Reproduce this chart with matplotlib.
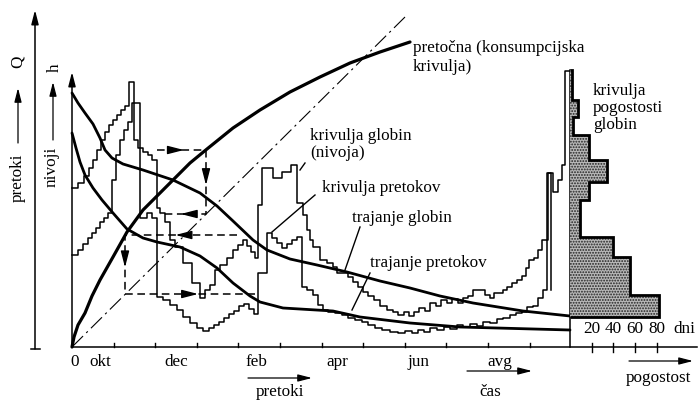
import numpy as np
import matplotlib.pyplot as plt

plt.rcParams['font.family'] = 'serif'
plt.rcParams['font.serif'] = ['Liberation Serif', 'DejaVu Serif']
plt.rcParams['hatch.linewidth'] = 0.9

# time runs 0..498 (one month = 41.6 units), levels are measured up from the time axis
MONTH = 41.6
T_END = 498
FS = 12.3

month_names = ['0', 'okt', 'dec', 'feb', 'apr', 'jun', 'avg']
month_pos = [3, 28, 104, 184, 265, 346, 428]

# krivulja globin (nivoja) - step hydrograph of levels
lvl_t = [0, 6, 12, 17, 21, 25, 29, 33, 37, 41, 45, 49, 53, 57, 62, 66, 71, 76, 80, 85,
         88, 93, 98, 103, 111, 120, 128, 133, 138, 143, 148, 155, 161, 166, 171, 175, 179, 183, 186, 190,
         197, 201, 206, 210, 215, 219, 225, 231, 235, 238, 241, 248, 255, 261, 265, 271, 276, 281, 286, 291,
         296, 302, 308, 315, 321, 326, 332, 337, 342, 347, 353, 358, 364, 369, 375, 380, 386, 391, 396, 401,
         408, 413, 418, 422, 427, 431, 435, 440, 445, 450, 454, 457, 462, 466, 470, 476, 481, 486, 490, 493, 498]
lvl_v = [159, 164, 171, 179, 187, 197, 207, 215, 222, 227, 232, 237, 241, 265, 207, 199, 195, 192, 187, 139,
         134, 125, 107, 100, 84, 64, 49, 57, 62, 77, 82, 89, 97, 102, 107, 101, 95, 89, 142, 179,
         179, 169, 169, 175, 175, 182, 144, 132, 117, 107, 100, 87, 84, 80, 74, 74, 70, 65, 60, 55,
         51, 47, 41, 37, 35, 32, 35, 31, 35, 39, 36, 44, 41, 47, 44, 48, 44, 49, 51, 57,
         57, 52, 49, 54, 54, 57, 60, 64, 67, 71, 79, 87, 89, 97, 107, 174, 155, 167, 182, 276, 276]

# krivulja pretokov - step hydrograph of discharges
flow_t = [0, 6, 11, 16, 20, 24, 28, 32, 36, 40, 44, 48, 52, 56, 60, 68, 75, 80, 85, 91,
          98, 105, 111, 118, 125, 131, 137, 142, 147, 152, 157, 162, 167, 172, 177, 182, 186, 191, 195, 200,
          205, 210, 215, 220, 225, 230, 235, 241, 246, 251, 256, 263, 270, 276, 283, 290, 296, 303, 310, 318,
          326, 333, 340, 346, 352, 358, 365, 372, 378, 385, 391, 398, 405, 411, 418, 425, 431, 438, 444, 450,
          455, 461, 466, 471, 475, 479]
flow_v = [92, 97, 103, 109, 114, 119, 125, 129, 134, 167, 192, 207, 217, 225, 244, 129, 134, 129, 50, 47,
          42, 37, 30, 24, 19, 16, 19, 22, 25, 29, 33, 36, 41, 43, 38, 33, 74, 74, 114, 109,
          104, 99, 103, 107, 110, 60, 57, 52, 42, 37, 35, 34, 32, 29, 27, 25, 22, 19, 17, 15,
          14, 16, 14, 17, 15, 19, 17, 20, 18, 22, 20, 23, 21, 25, 24, 28, 29, 32, 34, 35,
          40, 41, 49, 57, 174, 57]

# trajanje globin
dur_lvl_t = [0, 6, 13, 21, 28, 33, 40, 51, 71, 101, 128, 145, 161, 181, 195, 218, 245, 275, 308, 338, 368, 401, 451, 498]
dur_lvl_v = [254, 244, 234, 223, 209, 197, 189, 183, 177, 167, 154, 141, 126, 107, 97, 88, 82, 75, 66, 59, 51, 44, 36, 31]

# trajanje pretokov
dur_flow_t = [0, 4, 8, 13, 21, 30, 41, 55, 71, 85, 108, 128, 145, 161, 178, 188, 211, 261, 288, 338, 388, 498]
dur_flow_v = [214, 199, 185, 172, 159, 147, 134, 118, 109, 105, 100, 91, 79, 64, 51, 45, 39, 36, 30, 24, 20, 17]

# pretočna (konsumpcijska) krivulja
rat_t = [0, 2, 6, 13, 20, 28, 41, 55, 71, 88, 101, 118, 135, 161, 188, 218, 248, 278, 308, 338]
rat_v = [0, 10, 22, 34, 51, 67, 90, 115, 137, 154, 167, 184, 198, 219, 237, 255, 270, 284, 295, 305]

# 45 degree helper line
diag_t = [0, 333]
diag_v = [0, 330]

# transfer constructions (hydrograph -> rating curve -> diagonal -> hydrograph)
consA_t = [85, 134, 134, 88]
consA_v = [197, 197, 133, 133]
consB_t = [165, 53, 53, 186]
consB_v = [112, 112, 53, 53]

# krivulja pogostosti globin (days per level class)
hist_edges = [30, 52, 90, 110, 147, 165, 187, 212, 230, 247, 277]
hist_days = [82, 55, 40, 9, 18, 34, 18, 3, 7, 2]
freq_ticks = [20, 40, 60, 80]

fig = plt.figure(figsize=(6.98, 4.01), dpi=100)
ax = fig.add_axes([0, 0, 1, 1])
ax.set_xlim(-72, 626)
ax.set_ylim(-54, 347)
ax.axis('off')

head = '-|>,head_length=0.7,head_width=0.18'

def arrow(a, x0, y0, x1, y1, lw=1.0, ms=12):
    a.annotate('', xy=(x1, y1), xytext=(x0, y0),
               arrowprops=dict(arrowstyle=head, color='k', lw=lw, mutation_scale=ms,
                               shrinkA=0, shrinkB=0))

# axes
ax.plot([0, 625], [0, 0], color='k', lw=1.1)
arrow(ax, 0, 0, 0, 275, lw=1.1)
arrow(ax, -37, -2, -37, 337, lw=1.1)
ax.plot([-41, -32], [-2, -2], color='k', lw=1.1)
ax.plot([T_END, T_END], [0, 277], color='k', lw=1.1)
for k in range(1, 12):
    ax.plot([k * MONTH, k * MONTH], [0, 4], color='k', lw=1.0)
for name, p in zip(month_names, month_pos):
    ax.text(p, -15, name, ha='center', va='center', fontsize=FS)

# hydrographs
ax.step(lvl_t, lvl_v, where='post', color='k', lw=1.1)
ax.step(flow_t, flow_v, where='post', color='k', lw=1.1)

# smooth curves
ax.plot(dur_lvl_t, dur_lvl_v, color='k', lw=2.0, solid_capstyle='round')
ax.plot(dur_flow_t, dur_flow_v, color='k', lw=2.0, solid_capstyle='round')
ax.plot(rat_t, rat_v, color='k', lw=2.3, solid_capstyle='round')
ax.plot(diag_t, diag_v, color='k', lw=0.8, linestyle=(0, (14, 4, 2, 4)))

# constructions with arrow marks in the middle of each leg
for ct, cv in [(consA_t, consA_v), (consB_t, consB_v)]:
    ax.plot(ct, cv, color='k', lw=1.1, linestyle=(0, (5, 3)))
    for i in range(3):
        xm = ct[i] + 0.55 * (ct[i + 1] - ct[i])
        ym = cv[i] + 0.55 * (cv[i + 1] - cv[i])
        dx = np.sign(ct[i + 1] - ct[i]) * 6
        dy = np.sign(cv[i + 1] - cv[i]) * 6
        arrow(ax, xm - dx, ym - dy, xm, ym, lw=1.0, ms=14)

# callout lines
ax.plot([233, 228], [184, 177], color='k', lw=1.0)
ax.plot([243, 200], [152, 115], color='k', lw=1.0)
ax.plot([288, 273], [120, 77], color='k', lw=1.0)
ax.plot([298, 280], [74, 37], color='k', lw=1.0)

# labels
ax.text(341, 307, 'pretočna (konsumpcijska\nkrivulja)', ha='left', va='top', fontsize=FS, linespacing=1.25)
ax.text(521, 264, 'krivulja\npogostosti\nglobin', ha='left', va='top', fontsize=FS, linespacing=1.1)
ax.text(238, 219, 'krivulja globin\n(nivoja)', ha='left', va='top', fontsize=FS, linespacing=1.1)
ax.text(250, 159, 'krivulja pretokov', ha='left', va='center', fontsize=FS)
ax.text(280, 129, 'trajanje globin', ha='left', va='center', fontsize=FS)
ax.text(298, 84, 'trajanje pretokov', ha='left', va='center', fontsize=FS)

ax.text(208, -45, 'pretoki', ha='center', va='center', fontsize=FS)
arrow(ax, 176, -31, 240, -31, lw=0.9)
ax.text(418, -45, 'čas', ha='center', va='center', fontsize=FS)
arrow(ax, 395, -24, 460, -24, lw=0.9)
ax.text(586, -31, 'pogostost', ha='center', va='center', fontsize=FS)
arrow(ax, 557, -14, 621, -14, lw=0.9)

ax.text(-54, 169, 'pretoki', rotation=90, ha='center', va='center', fontsize=FS)
arrow(ax, -54, 204, -54, 259, lw=0.9)
ax.text(-54, 285, 'Q', rotation=90, ha='center', va='center', fontsize=FS)
ax.text(-20, 180, 'nivoji', rotation=90, ha='center', va='center', fontsize=FS)
arrow(ax, -19, 207, -19, 265, lw=0.9)
ax.text(-17, 279, 'h', rotation=90, ha='center', va='center', fontsize=FS)

# frequency histogram on its own axis
ax2 = fig.add_axes([570 / 698, 0, 128 / 698, 1])
ax2.set_xlim(0, 128 / 1.083)
ax2.set_ylim(-54, 347)
ax2.axis('off')
ax2.patch.set_alpha(0)
heights = np.diff(hist_edges)
ax2.barh(hist_edges[:-1], hist_days, height=heights, align='edge',
         color='#b8b8b8', edgecolor='#222222', linewidth=0, hatch='......')
ax2.stairs(hist_days, hist_edges, orientation='horizontal', baseline=0, color='k', lw=2.0)
for d in freq_ticks:
    ax2.plot([d, d], [-5, 4], color='k', lw=1.0)
    ax2.text(d, 18, str(d), ha='center', va='center', fontsize=FS)
ax2.text(106, 18, 'dni', ha='center', va='center', fontsize=FS)

fig.savefig('out.png', dpi=100)
